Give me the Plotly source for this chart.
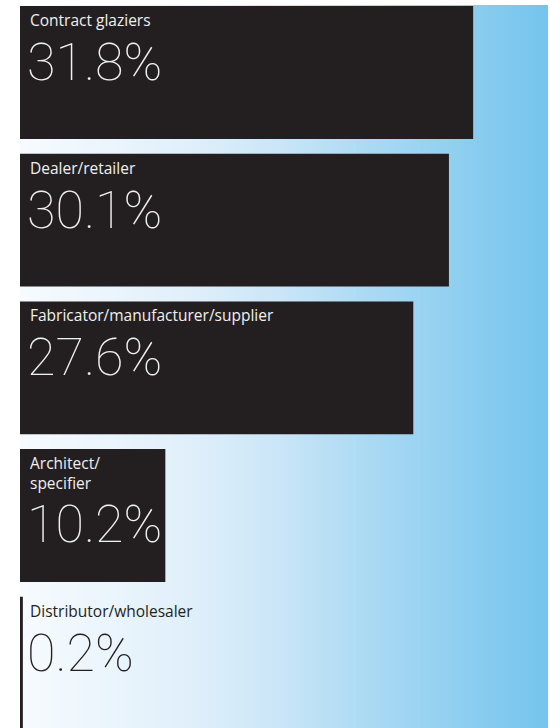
import plotly.graph_objects as go

# ---- data ----
categories = ["Contract glaziers", "Dealer/retailer", "Fabricator/manufacturer/supplier",
              "Architect/specifier", "Distributor/wholesaler"]
display_labels = ["Contract glaziers", "Dealer/retailer", "Fabricator/manufacturer/supplier",
                  "Architect/<br>specifier", "Distributor/wholesaler"]
values = [31.8, 30.1, 27.6, 10.2, 0.2]
value_labels = ["31.8%", "30.1%", "27.6%", "10.2%", "0.2%"]

W, H = 552, 728
BAR = "#231f20"
PX_PER_UNIT = 14.25
X0_PX = 20

fig = go.Figure()
fig.add_trace(go.Bar(
    y=categories, x=values, orientation="h",
    marker=dict(color=BAR, line=dict(width=0)),
    width=0.9, hoverinfo="skip", showlegend=False,
))

# ---- gradient background ----
stops = [(0.0, (247, 251, 254)), (0.33, (223, 239, 250)), (0.5, (200, 229, 247)),
         (0.67, (169, 217, 243)), (1.0, (116, 196, 237))]

def interp(t):
    for (t0, c0), (t1, c1) in zip(stops[:-1], stops[1:]):
        if t <= t1:
            f = (t - t0) / (t1 - t0) if t1 > t0 else 0
            return "rgb(%d,%d,%d)" % tuple(round(a + (b - a) * f) for a, b in zip(c0, c1))
    return "rgb(%d,%d,%d)" % stops[-1][1]

gx0, gx1 = 20 / W, 548 / W
gy0, gy1 = 0, 1 - 5 / H
N = 132
shapes = []
for i in range(N):
    a = gx0 + (gx1 - gx0) * i / N
    b = gx0 + (gx1 - gx0) * (i + 1) / N + 0.0015
    shapes.append(dict(type="rect", xref="paper", yref="paper", x0=a, x1=min(b, gx1),
                       y0=gy0, y1=gy1, fillcolor=interp((i + 0.5) / N),
                       line=dict(width=0), layer="below"))

# ---- annotations ----
annots = []
for i, (lab, vl) in enumerate(zip(display_labels, value_labels)):
    col = "#f0f0f0" if values[i] > 2 else BAR
    nlines = lab.count("<br>") + 1
    annots.append(dict(x=0, y=i - 0.45, xref="x", yref="y", text=lab, showarrow=False,
                       xanchor="left", yanchor="top", xshift=8, yshift=-1, align="left",
                       font=dict(family="Open Sans", size=15.5, color=col)))
    annots.append(dict(x=0, y=i - 0.45, xref="x", yref="y", text=vl, showarrow=False,
                       xanchor="left", yanchor="top", xshift=5,
                       yshift=-24 - 19 * (nlines - 1),
                       font=dict(family="Roboto", size=52, color=col, weight=100)))

fig.update_layout(
    width=W, height=H,
    margin=dict(l=0, r=0, t=0, b=0),
    paper_bgcolor="white", plot_bgcolor="rgba(0,0,0,0)",
    shapes=shapes, annotations=annots,
    xaxis=dict(range=[-X0_PX / PX_PER_UNIT, (W - X0_PX) / PX_PER_UNIT], visible=False,
               fixedrange=True),
    yaxis=dict(type="category", categoryorder="array", categoryarray=categories,
               range=[4.439, -0.491], visible=False, fixedrange=True),
)
fig.write_html("out.html", config={"displayModeBar": False},
               post_script="document.body.style.margin='0px';document.body.style.padding='0px';")
